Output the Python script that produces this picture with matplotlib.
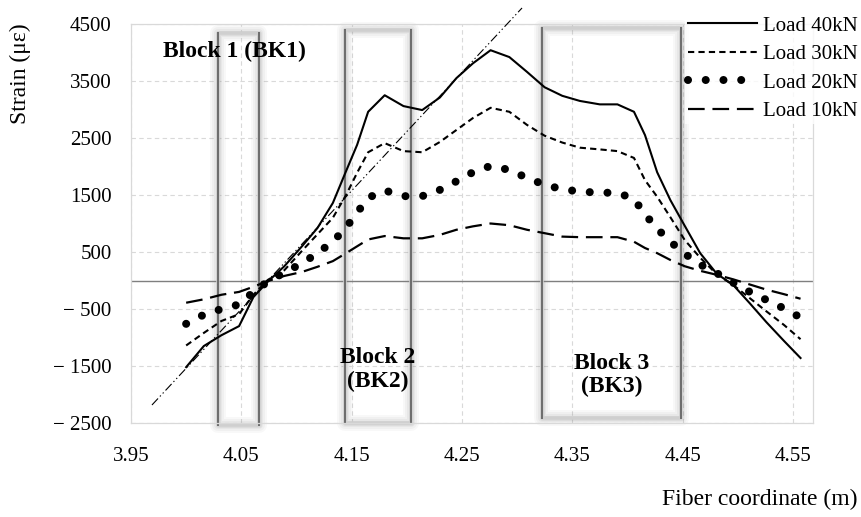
import matplotlib
matplotlib.use("Agg")
import matplotlib.pyplot as plt
from matplotlib.patches import Rectangle

plt.rcParams['font.family'] = ['Liberation Serif', 'DejaVu Serif']

# Fiber coordinate (m)
coord = [4.000, 4.016, 4.032, 4.048, 4.061, 4.074, 4.089, 4.105, 4.119, 4.133,
         4.145, 4.155, 4.165, 4.180, 4.197, 4.214, 4.230, 4.245, 4.260, 4.276,
         4.293, 4.309, 4.325, 4.341, 4.357, 4.375, 4.391, 4.406, 4.416, 4.427,
         4.439, 4.452, 4.466, 4.481, 4.496, 4.511, 4.526, 4.542, 4.557]

# Strain (micro-strain) for each load step
load_40 = [-1520, -1150, -960, -800, -290, -20, 250, 600, 920, 1360,
           1920, 2380, 2960, 3250, 3060, 2990, 3210, 3550, 3810, 4040,
           3920, 3660, 3390, 3240, 3150, 3090, 3090, 2960, 2550, 1900,
           1410, 960, 480, 120, -80, -400, -730, -1060, -1360]
load_30 = [-1140, -920, -710, -590, -250, 10, 180, 520, 810, 1100,
           1500, 1890, 2250, 2410, 2270, 2250, 2430, 2640, 2850, 3030,
           2960, 2730, 2540, 2420, 2330, 2300, 2270, 2150, 1760, 1470,
           1110, 710, 400, 110, -80, -310, -540, -780, -1030]
load_20 = [-760, -600, -500, -420, -200, -20, 140, 300, 480, 680,
           930, 1190, 1450, 1580, 1480, 1480, 1590, 1740, 1900, 2010,
           1940, 1800, 1680, 1600, 1560, 1540, 1540, 1430, 1160, 910,
           680, 470, 280, 130, -40, -200, -340, -490, -650]
load_10 = [-390, -330, -250, -200, -110, -10, 80, 150, 240, 340,
           480, 600, 720, 780, 740, 740, 800, 890, 950, 1000,
           970, 890, 830, 770, 760, 760, 760, 680, 570, 480,
           360, 250, 170, 100, 20, -70, -160, -240, -320]

series_labels = ['Load 40kN', 'Load 30kN', 'Load 20kN', 'Load 10kN']

# Reference slope line (start / end points)
ref_x = [3.969, 4.3045]
ref_y = [-2184, 4781]

# Block spans along the fiber and their labels
block_spans = [(4.029, 4.066), (4.144, 4.204), (4.3226, 4.4486)]
block_tops = [4340, 4395, 4430]
block_bottoms = [-2535, -2500, -2410]
block_texts = ['Block 1 (BK1)', 'Block 2\n(BK2)', 'Block 3\n(BK3)']
block_text_pos = [(4.044, 4020), (4.174, -1560), (4.386, -1660)]

x_ticks = [3.95, 4.05, 4.15, 4.25, 4.35, 4.45, 4.55]
y_ticks = [-2500, -1500, -500, 500, 1500, 2500, 3500, 4500]


def fmt_strain(v):
    return f"\u2212 {abs(v)}" if v < 0 else f"{v}"


W, H = 861, 517
fig = plt.figure(figsize=(W / 100, H / 100), dpi=100)
ax = fig.add_axes([131 / W, 1 - 423 / H, (813 - 131) / W, (423 - 24) / H])
ax.set_xlim(3.95, 4.5683)
ax.set_ylim(-2500, 4500)

grid_col = '#d9d9d9'
for s in ax.spines.values():
    s.set_color(grid_col)
    s.set_linewidth(0.9)
ax.set_xticks(x_ticks)
ax.set_xticklabels([f"{v:.2f}" for v in x_ticks])
ax.set_yticks(y_ticks)
ax.set_yticklabels([fmt_strain(v) for v in y_ticks])
ax.tick_params(length=0, labelsize=15)
ax.tick_params(axis='x', pad=17)
ax.tick_params(axis='y', pad=14)
ax.grid(True, color=grid_col, linestyle=(0, (4, 3)), linewidth=0.8, zorder=0)
ax.set_axisbelow(True)
ax.axhline(0, color='#7f7f7f', linewidth=1.0, zorder=1)

# Blocks: soft shadow, light frame and darker side edges
px = 0.72
for (x0, x1), yt, yb in zip(block_spans, block_tops, block_bottoms):
    for w, a in [(16, 0.05), (12, 0.06), (8, 0.08), (5, 0.10)]:
        ax.add_patch(Rectangle((x0, yb), x1 - x0, yt - yb, fill=False,
                               edgecolor='#808080', alpha=a, linewidth=w * px,
                               joinstyle='round', clip_on=False, zorder=2))
    ax.add_patch(Rectangle((x0, yb), x1 - x0, yt - yb, fill=False,
                           edgecolor='#cfcfcf', linewidth=3.5 * px,
                           joinstyle='round', clip_on=False, zorder=2.1))
    for xe in (x0, x1):
        ax.plot([xe, xe], [yb, yt], color='#6e6e6e', linewidth=2 * px,
                clip_on=False, zorder=2.2)

for (tx, ty), t in zip(block_text_pos, block_texts):
    ax.text(tx, ty, t, ha='center', va='center', fontsize=17,
            fontweight='bold', zorder=6, linespacing=1.15)

# Strain curves
l40, = ax.plot(coord, load_40, color='black', linewidth=1.5, zorder=4,
               label=series_labels[0])
l30, = ax.plot(coord, load_30, color='black', linewidth=1.5,
               linestyle=(0, (3, 2)), zorder=4, label=series_labels[1])
l20, = ax.plot(coord, load_20, color='black', linewidth=5.8,
               linestyle=(0, (0.001, 2.2)), dash_capstyle='round',
               zorder=4, label=series_labels[2])
l10, = ax.plot(coord, load_10, color='black', linewidth=1.6,
               linestyle=(0, (7.5, 3.5)), zorder=4, label=series_labels[3])

ax.plot(ref_x, ref_y, color='black', linewidth=0.8,
        linestyle=(0, (8, 2.5, 1.2, 2.5, 1.2, 2.5)), clip_on=False, zorder=3)

leg = fig.legend(handles=[l40, l30, l20, l10], loc='upper right',
                 bbox_to_anchor=(1.0, 1 - 13 / H), borderaxespad=0,
                 fontsize=15, handlelength=3.3, handletextpad=0.3,
                 labelspacing=0.43, borderpad=0.15, frameon=True,
                 fancybox=False)
leg.get_frame().set_facecolor('white')
leg.get_frame().set_edgecolor('none')
leg.set_zorder(10)

fig.text(20 / W, 1 - 74 / H, 'Strain (\u03bc\u03b5)', rotation=90,
         ha='center', va='center', fontsize=17)
fig.text(858 / W, 1 - 499 / H, 'Fiber coordinate (m)', ha='right',
         va='center', fontsize=17)

fig.savefig('out.png', dpi=100)
